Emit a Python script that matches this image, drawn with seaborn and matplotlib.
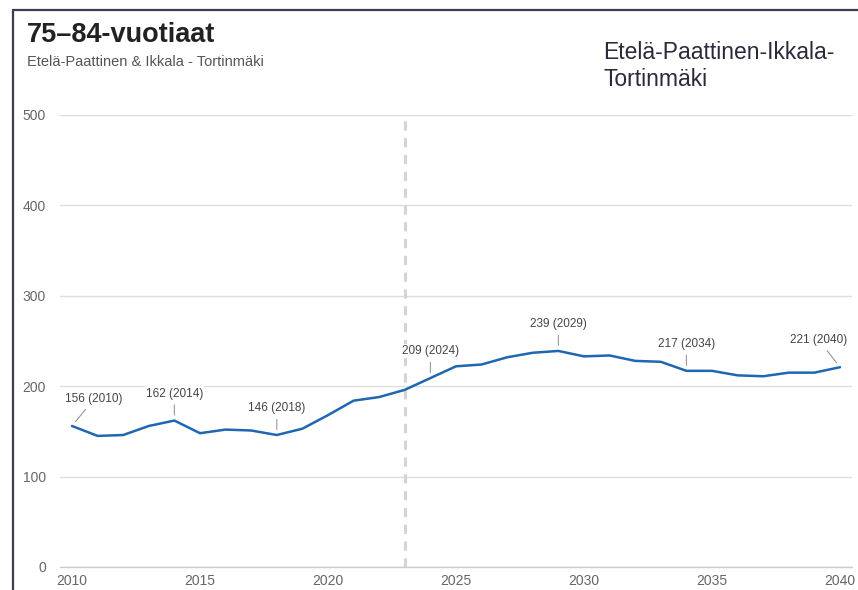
import matplotlib
matplotlib.use("Agg")
import matplotlib.pyplot as plt
from matplotlib.lines import Line2D
import pandas as pd
import seaborn as sns

# data
years = list(range(2010, 2041))
values = [156, 145, 146, 156, 162, 148, 152, 151, 146, 153,
          168, 184, 188, 196, 209, 222, 224, 232, 237, 239,
          233, 234, 228, 227, 217, 217, 212, 211, 215, 215, 221]
label_years = [2010, 2014, 2018, 2024, 2029, 2034, 2040]
forecast_start = 2023
y_ticks = [0, 100, 200, 300, 400, 500]
x_ticks = [2010, 2015, 2020, 2025, 2030, 2035, 2040]

title = "75–84-vuotiaat"
subtitle = "Etelä-Paattinen & Ikkala - Tortinmäki"
area_name = "Etelä-Paattinen-Ikkala-\nTortinmäki"

LINE_COLOR = "#1f67b1"
GRID_COLOR = "#dddddd"
TICK_COLOR = "#666666"

sns.set_theme(style="white")
plt.rcParams["font.family"] = ["Liberation Sans", "DejaVu Sans"]

df = pd.DataFrame({"vuosi": years, "maara": values})

W, H = 858, 590
fig = plt.figure(figsize=(W / 100, H / 100), dpi=100)
ax = fig.add_axes([60 / W, 23 / H, (852 - 60) / W, (567 - 115) / H])

sns.lineplot(data=df, x="vuosi", y="maara", ax=ax, color=LINE_COLOR,
             linewidth=1.8, zorder=3)

ax.set_xlim(2010 - 12 / 25.6, 2040 + 12 / 25.6)
ax.set_ylim(0, 500)
ax.set_xticks(x_ticks)
ax.set_yticks(y_ticks)
ax.set_xlabel("")
ax.set_ylabel("")
ax.grid(axis="y", color=GRID_COLOR, linewidth=1)
ax.grid(axis="x", visible=False)
ax.axhline(0, color="#cccccc", linewidth=1, clip_on=False, zorder=1)
for s in ax.spines.values():
    s.set_visible(False)
ax.tick_params(axis="both", length=0, labelsize=10, labelcolor=TICK_COLOR)
ax.tick_params(axis="y", pad=10)
ax.tick_params(axis="x", pad=5)

# forecast divider
ax.axvline(forecast_start, color="#d4d4d4", linewidth=2.2,
           linestyle=(0, (3, 2.5)), zorder=1)

# point labels
offsets = {2010: (22, 27), 2040: (-21, 27)}
for yr in label_years:
    v = values[years.index(yr)]
    dx, dy = offsets.get(yr, (0, 27))
    ax.annotate(f"{v} ({yr})", xy=(yr, v), xytext=(dx, dy),
                textcoords="offset pixels", ha="center", va="center",
                fontsize=8.5, color="#444444", zorder=5,
                bbox=dict(boxstyle="square,pad=0.1", fc="white", ec="none"),
                arrowprops=dict(arrowstyle="-", color="#999999", lw=0.8,
                                shrinkA=3, shrinkB=4))

# header texts
fig.text(27 / W, 1 - 42 / H, title, fontsize=19.5, fontweight="bold",
         color="#222222", ha="left", va="baseline")
fig.text(27 / W, 1 - 66 / H, subtitle, fontsize=10.5, color="#555555",
         ha="left", va="baseline")
fig.text(603 / W, 1 - 86 / H, area_name, fontsize=16.5, color="#2a2a3a",
         ha="left", va="baseline", linespacing=1.2)

# frame edges visible in the screenshot
fig.add_artist(Line2D([13 / W, 13 / W], [0, 1 - 10 / H], color="#3c3c50",
                      linewidth=1.6, transform=fig.transFigure))
fig.add_artist(Line2D([13 / W, 1], [1 - 10 / H, 1 - 10 / H], color="#3c3c50",
                      linewidth=1.6, transform=fig.transFigure))

fig.savefig("out.png", dpi=100)
